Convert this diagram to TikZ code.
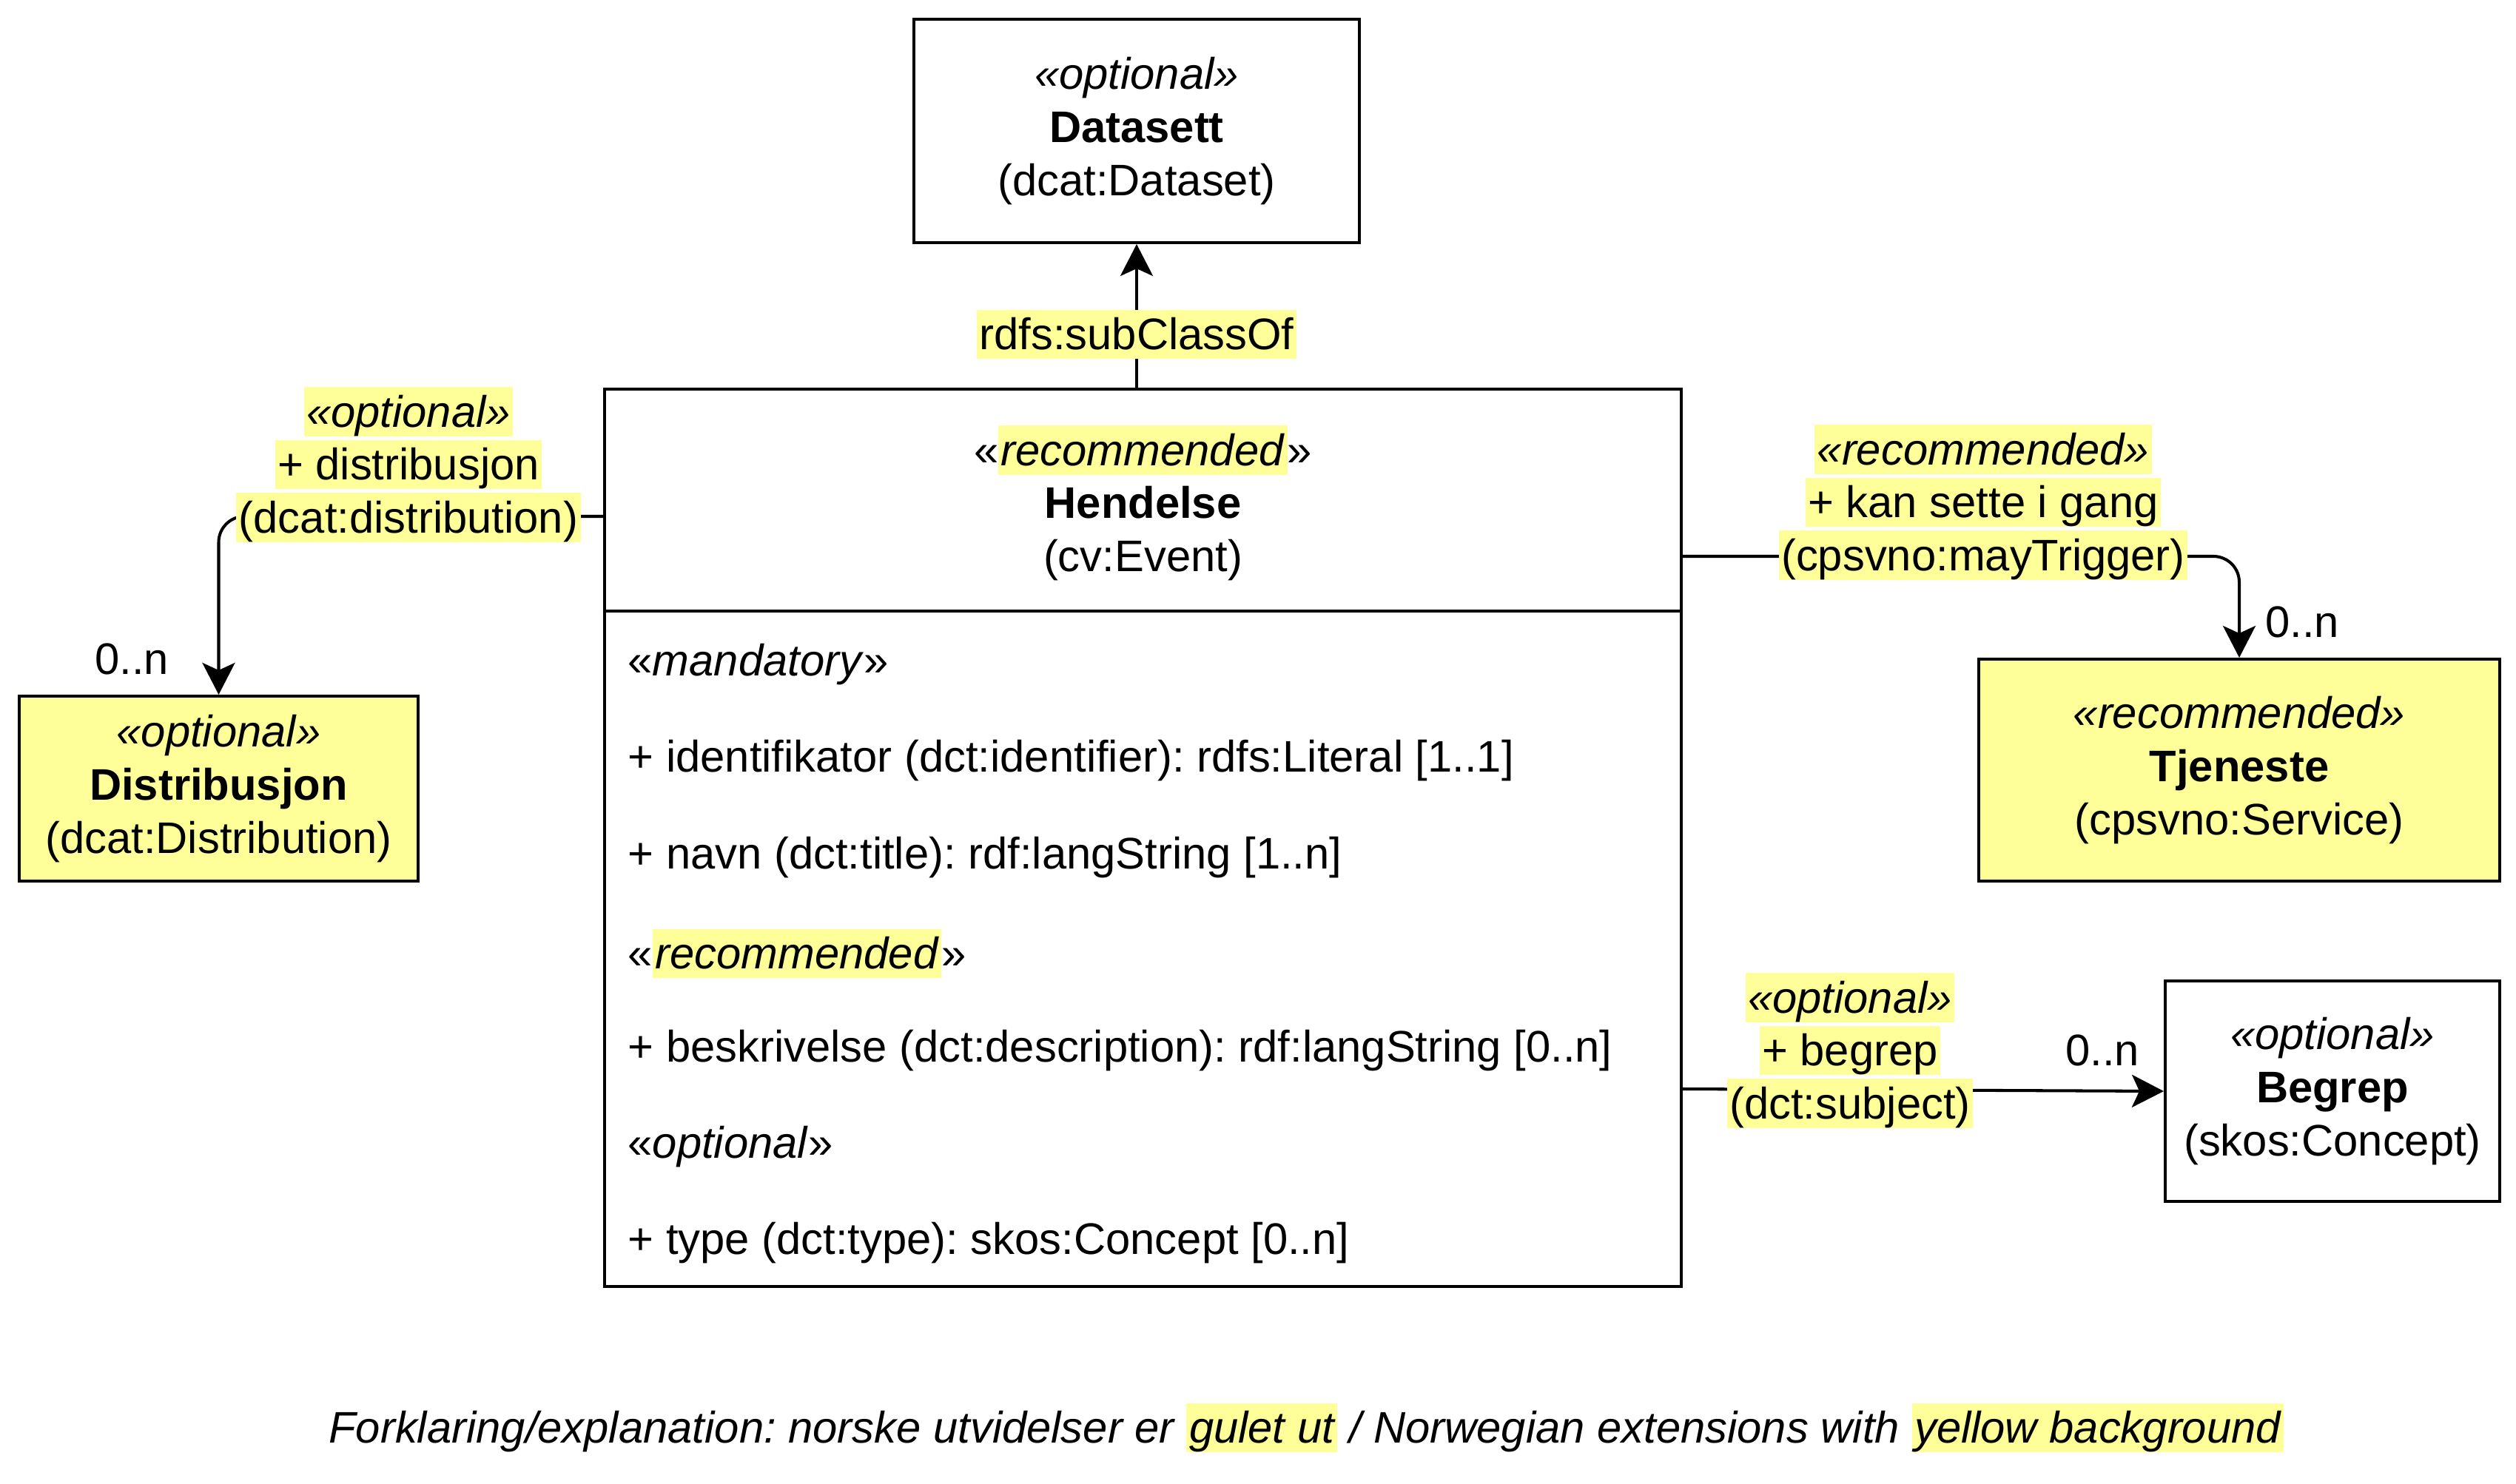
\documentclass[tikz,border=0pt]{standalone}
\usepackage{fontspec}
\setmainfont{Liberation Sans}
\usepackage{xcolor}
\usetikzlibrary{arrows.meta, calc, positioning}
\definecolor{gul}{HTML}{FFFF99}
\newcommand{\hilite}[1]{{\setlength{\fboxsep}{0pt}\colorbox{gul}{\rule[-0.212em]{0pt}{1.117em}\hspace{1pt}#1\hspace{1pt}}}}
\frenchspacing

\begin{document}
\begin{tikzpicture}[
		every node/.style={font=\fontsize{17pt}{20.4pt}\selectfont},
		klasse/.style={rectangle, draw, line width=1.15pt, align=center, inner sep=0pt},
		norsk/.style={klasse, fill=gul},
		rolle/.style={align=center, inner sep=0pt},
		attr/.style={anchor=west, inner sep=0pt},
		mult/.style={inner sep=0pt},
		assoc/.style={line width=1.15pt, -{Stealth[length=0.43cm, width=0.44cm, inset=0.1cm]}}
		]
		\useasboundingbox (0,0) rectangle (34,-20.05);
	
		% Klasser
		\node[klasse, minimum width=6.02cm, minimum height=3.02cm] (dset) at (15.36,-1.77) {\textit{«optional»}\\\textbf{Datasett}\\(dcat:Dataset)};
		\node[klasse, minimum width=14.55cm, minimum height=12.13cm] (hend) at (15.445,-11.325) {};
		\node[norsk, minimum width=5.39cm, minimum height=2.50cm] (dist) at (2.955,-10.66) {\textit{«optional»}\\\textbf{Distribusjon}\\(dcat:Distribution)};
		\node[norsk, minimum width=7.04cm, minimum height=3.00cm] (tjen) at (30.26,-10.41) {\textit{«recommended»}\\\textbf{Tjeneste}\\(cpsvno:Service)};
		\node[klasse, minimum width=4.52cm, minimum height=2.98cm] (begr) at (31.52,-14.75) {\textit{«optional»}\\\textbf{Begrep}\\(skos:Concept)};
	
		% Hendelse: hode og egenskaper
		\node[rolle] (hendhode) at (15.445,-6.80) {«\hilite{\textit{recommended}}»\\\textbf{Hendelse}\\(cv:Event)};
		\draw[line width=1.15pt] ([yshift=-3.02cm]hend.north west) -- ([yshift=-3.02cm]hend.north east);
		\node[attr] (a1) at (8.48,-8.98) {«\textit{mandatory}»};
		\node[attr] (a2) at (8.48,-10.28) {+ identifikator (dct:identifier): rdfs:Literal [1..1]};
		\node[attr] (a3) at (8.48,-11.59) {+ navn (dct:title): rdf:langString [1..n]};
		\node[attr] (a4) at (8.48,-12.89) {«\hilite{\textit{recommended}}»};
		\node[attr] (a5) at (8.48,-14.20) {+ beskrivelse (dct:description): rdf:langString [0..n]};
		\node[attr] (a6) at (8.48,-15.50) {«\textit{optional}»};
		\node[attr] (a7) at (8.48,-16.80) {+ type (dct:type): skos:Concept [0..n]};
	
		% Relasjoner
		\draw[assoc] (hend.north -| dset.south) -- (dset.south);
		\draw[assoc, rounded corners=0.35cm] ([yshift=-1.74cm]hend.north west) -| (dist.north);
		\draw[assoc, rounded corners=0.35cm] ([yshift=-2.28cm]hend.north east) -| (tjen.north);
		\draw[assoc] ([yshift=-9.48cm]hend.north east) -- (begr.west);
	
		\node[rolle] (lsub) at (15.36,-4.52) {\hilite{rdfs:subClassOf}};
		\node[rolle] (ldist) at (5.52,-6.28) {\hilite{\textit{«optional»}}\\\hilite{+ distribusjon}\\\hilite{(dcat:distribution)}};
		\node[rolle] (ltjen) at (26.80,-6.79) {\hilite{\textit{«recommended»}}\\\hilite{+ kan sette i gang}\\\hilite{(cpsvno:mayTrigger)}};
		\node[rolle] (lbegr) at (25.00,-14.20) {\hilite{\textit{«optional»}}\\\hilite{+ begrep}\\\hilite{(dct:subject)}};
	
		\node[mult] (m1) at (1.78,-8.91) {0..n};
		\node[mult] (m2) at (31.11,-8.41) {0..n};
		\node[mult] (m3) at (28.41,-14.20) {0..n};
	
		% Forklaring
		\node (forkl) at (17.65,-19.30) {\itshape Forklaring/explanation: norske utvidelser er \hilite{gulet ut} / Norwegian extensions with \hilite{yellow background}};
	\end{tikzpicture}
\end{document}
